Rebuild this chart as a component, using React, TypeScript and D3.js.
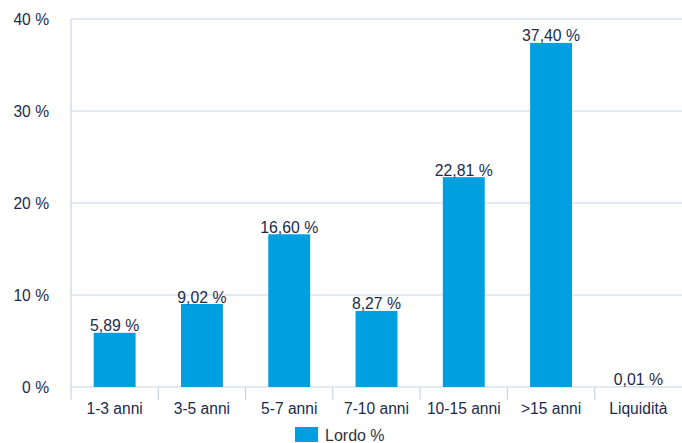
import React from 'react';
import * as d3 from 'd3';

const categories = ['1-3 anni', '3-5 anni', '5-7 anni', '7-10 anni', '10-15 anni', '>15 anni', 'Liquidità'];
const lordo = [5.89, 9.02, 16.6, 8.27, 22.81, 37.4, 0.01];
const yTicks = [0, 10, 20, 30, 40];
const seriesName = 'Lordo %';

const width = 682;
const height = 443;
const margin = { top: 19, right: 0, bottom: 56, left: 71 };

const barColor = '#009fe0';
const gridColor = '#c8d5e7';
const textColor = '#1c2b4d';
const font = '"Liberation Sans", Arial, Helvetica, sans-serif';

const fmt = (v: number) => v.toFixed(2).replace('.', ',') + ' %';

export default function App() {
  const innerW = width - margin.left - margin.right;
  const innerH = height - margin.top - margin.bottom;

  const x = d3.scaleBand<string>().domain(categories).range([0, innerW]).padding(0);
  const y = d3.scaleLinear().domain([0, 40]).range([innerH, 0]);
  const barW = x.bandwidth() * 0.48;

  return (
    <div style={{ position: 'absolute', left: 0, top: 0 }}>
      <svg width={width} height={height} style={{ display: 'block', background: '#fff' }}>
        <g transform={`translate(${margin.left},${margin.top})`} fontFamily={font}>
          {/* grid */}
          {yTicks.map(t => (
            <g key={t}>
              <line x1={0} x2={innerW} y1={y(t)} y2={y(t)} stroke={gridColor} strokeWidth={1.2} />
              <text x={-22} y={y(t) + 5.5} textAnchor="end" fontSize={15.6} fill={textColor}>
                {t} %
              </text>
            </g>
          ))}
          {/* y axis line */}
          <line x1={0} x2={0} y1={0} y2={innerH + 13} stroke={gridColor} strokeWidth={1.2} />
          {/* category ticks */}
          {categories.map((c, i) =>
            i === 0 ? null : (
              <line
                key={c}
                x1={x(c)!}
                x2={x(c)!}
                y1={innerH}
                y2={innerH + 13}
                stroke={gridColor}
                strokeWidth={1.2}
              />
            )
          )}
          {/* bars */}
          {categories.map((c, i) => {
            const cx = x(c)! + x.bandwidth() / 2;
            return (
              <g key={c}>
                <rect
                  x={cx - barW / 2}
                  y={y(lordo[i])}
                  width={barW}
                  height={innerH - y(lordo[i])}
                  fill={barColor}
                />
                <text x={cx} y={y(lordo[i]) - 1.5} textAnchor="middle" fontSize={15.8} fill={textColor}>
                  {fmt(lordo[i])}
                </text>
                <text x={cx} y={innerH + 27} textAnchor="middle" fontSize={15.6} fill={textColor}>
                  {c}
                </text>
              </g>
            );
          })}
        </g>
        {/* legend */}
        <g fontFamily={font}>
          <rect x={295} y={427} width={23} height={15} fill={barColor} />
          <text x={325} y={441} fontSize={16} fill="#333333">
            {seriesName}
          </text>
        </g>
      </svg>
    </div>
  );
}
